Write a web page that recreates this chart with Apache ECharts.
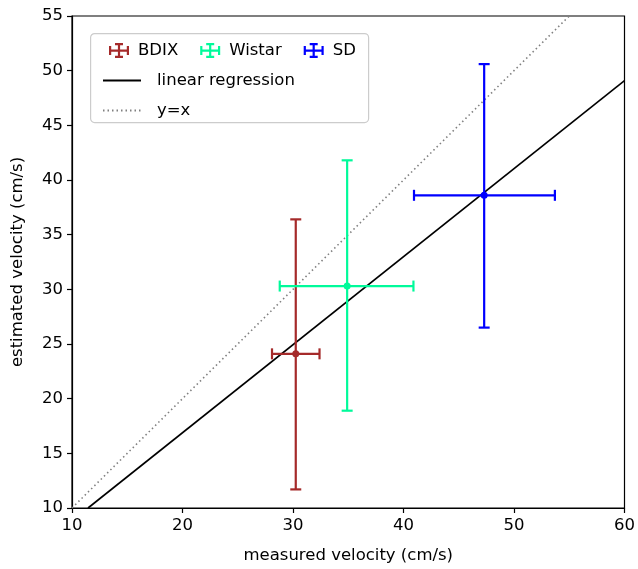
<!DOCTYPE html>
<html>
<head>
<meta charset="utf-8">
<script src="https://cdn.jsdelivr.net/npm/echarts@6/dist/echarts.min.js"></script>
<style>
  html, body { margin: 0; padding: 0; background: #fff; }
  #main { width: 638px; height: 569px; }
</style>
</head>
<body>
<div id="main"></div>
<script>
// groups: centre point and error bar ends
var groupNames = ['BDIX', 'Wistar', 'SD'];
var groupColors = ['#a52a2a', '#00fa9a', '#0000ff'];
var centerX = [30.25, 34.9, 47.3];
var centerY = [24.1, 30.3, 38.6];
var xLow = [28.1, 28.8, 40.95];
var xHigh = [32.4, 40.9, 53.7];
var yLow = [11.7, 18.9, 26.5];
var yHigh = [36.4, 41.8, 50.6];

// line end points
var regX = [11.45, 60];
var regY = [10, 49.1];
var identX = [10, 55];
var identY = [10, 55];

var xTicks = [10, 20, 30, 40, 50, 60];
var yTicks = [10, 15, 20, 25, 30, 35, 40, 45, 50, 55];

var fontName = 'DejaVu Sans';
var errIcon = 'path://M0,6.5h20v2.2h-20z M8.9,0h2.2v15h-2.2z M0,3h2.2v9h-2.2z M17.8,3h2.2v9h-2.2z M6,0h8v2.2h-8z M6,12.8h8v2.2h-8z';

var myChart = echarts.init(document.getElementById('main'));

function renderErr(params, api) {
    var cx = api.value(0), cy = api.value(1);
    var c = api.coord([cx, cy]);
    var l = api.coord([api.value(2), cy]);
    var r = api.coord([api.value(3), cy]);
    var b = api.coord([cx, api.value(4)]);
    var t = api.coord([cx, api.value(5)]);
    var color = api.visual('color');
    var st = { stroke: color, lineWidth: 2.2 };
    var cap = 5.5;
    return {
        type: 'group',
        children: [
            { type: 'line', shape: { x1: l[0], y1: l[1], x2: r[0], y2: r[1] }, style: st },
            { type: 'line', shape: { x1: b[0], y1: b[1], x2: t[0], y2: t[1] }, style: st },
            { type: 'line', shape: { x1: l[0], y1: l[1] - cap, x2: l[0], y2: l[1] + cap }, style: st },
            { type: 'line', shape: { x1: r[0], y1: r[1] - cap, x2: r[0], y2: r[1] + cap }, style: st },
            { type: 'line', shape: { x1: t[0] - cap, y1: t[1], x2: t[0] + cap, y2: t[1] }, style: st },
            { type: 'line', shape: { x1: b[0] - cap, y1: b[1], x2: b[0] + cap, y2: b[1] }, style: st },
            { type: 'circle', shape: { cx: c[0], cy: c[1], r: 3.5 }, style: { fill: color } }
        ]
    };
}

var series = [];
for (var i = 0; i < groupNames.length; i++) {
    series.push({
        name: groupNames[i],
        type: 'custom',
        color: groupColors[i],
        renderItem: renderErr,
        encode: { x: [0, 2, 3], y: [1, 4, 5] },
        data: [[centerX[i], centerY[i], xLow[i], xHigh[i], yLow[i], yHigh[i]]],
        z: 3
    });
}
series.push({
    name: 'linear regression',
    type: 'line',
    symbol: 'none',
    data: regX.map(function (x, k) { return [x, regY[k]]; }),
    lineStyle: { color: '#000', width: 1.6 },
    itemStyle: { color: '#000' },
    z: 2
});
series.push({
    name: 'y=x',
    type: 'line',
    symbol: 'none',
    data: identX.map(function (x, k) { return [x, identY[k]]; }),
    lineStyle: { color: '#808080', width: 1.6, type: [1.5, 3] },
    itemStyle: { color: '#808080' },
    z: 2
});

var option = {
    backgroundColor: '#fff',
    animation: false,
    textStyle: { fontFamily: fontName },
    grid: {
        left: 72, right: 13, top: 16, bottom: 59,
        show: true, borderColor: '#000', borderWidth: 1.2
    },
    graphic: [{
        type: 'rect',
        left: 90, top: 33, z: 3,
        shape: { width: 278, height: 89, r: 4 },
        style: { fill: 'rgba(255,255,255,0.85)', stroke: '#cccccc', lineWidth: 1.2 }
    }],
    legend: [{
        data: groupNames.map(function (n) { return { name: n, icon: errIcon }; }),
        left: 104, top: 37,
        itemWidth: 20, itemHeight: 15, itemGap: 22,
        textStyle: { fontFamily: fontName, fontSize: 16.5, color: '#000', padding: [0, 0, 0, 4] },
        z: 5
    }, {
        data: ['linear regression', 'y=x'],
        orient: 'vertical',
        left: 97, top: 67,
        itemWidth: 38, itemHeight: 14, itemGap: 13,
        itemStyle: { color: 'rgba(0,0,0,0)', borderWidth: 0 },
        textStyle: { fontFamily: fontName, fontSize: 16.5, color: '#000', padding: [0, 0, 0, 11] },
        z: 5
    }],
    xAxis: {
        type: 'value',
        min: xTicks[0], max: xTicks[xTicks.length - 1], interval: 10,
        name: 'measured velocity (cm/s)',
        nameLocation: 'middle', nameGap: 39,
        nameTextStyle: { fontFamily: fontName, fontSize: 16.5, color: '#000' },
        axisLine: { show: true, lineStyle: { color: '#000', width: 1.2 } },
        axisTick: { show: true, length: 5, lineStyle: { color: '#000', width: 1.2 } },
        axisLabel: { fontFamily: fontName, fontSize: 16.5, color: '#000', margin: 9 },
        splitLine: { show: false }
    },
    yAxis: {
        type: 'value',
        min: yTicks[0], max: yTicks[yTicks.length - 1], interval: 5,
        name: 'estimated velocity (cm/s)',
        nameLocation: 'middle', nameGap: 46,
        nameTextStyle: { fontFamily: fontName, fontSize: 16.5, color: '#000' },
        axisLine: { show: true, lineStyle: { color: '#000', width: 1.2 } },
        axisTick: { show: true, length: 5, lineStyle: { color: '#000', width: 1.2 } },
        axisLabel: { fontFamily: fontName, fontSize: 16.5, color: '#000', margin: 9 },
        splitLine: { show: false }
    },
    series: series
};
myChart.setOption(option);
window.addEventListener('resize', function () {
    myChart.resize();
});
</script>
</body>
</html>
